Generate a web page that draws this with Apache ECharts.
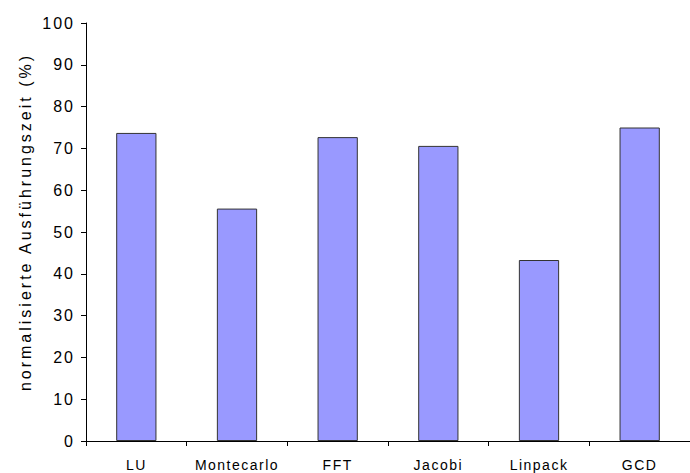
<!DOCTYPE html>
<html>
<head>
<meta charset="utf-8">
<script src="https://cdn.jsdelivr.net/npm/echarts@6/dist/echarts.min.js"></script>
<style>
  html, body { margin: 0; padding: 0; background: #fff; }
  #chart { width: 690px; height: 473px; }
</style>
</head>
<body>
<div id="chart"></div>
<script>
// benchmark names
const categories = ['LU', 'Montecarlo', 'FFT', 'Jacobi', 'Linpack', 'GCD']
// normalisierte Ausführungszeit in %
const values = [73.7, 55.6, 72.7, 70.6, 43.3, 75.0]
const yTicks = { min: 0, max: 100, interval: 10 }
const yName = 'normalisierte Ausführungszeit (%)'

const font = 'Liberation Sans, Arial, sans-serif'
const chart = echarts.init(document.getElementById('chart'), null, { renderer: 'svg' })
chart.setOption({
  animation: false,
  grid: {
    left: 86,
    right: -6,
    top: 23,
    bottom: 32
  },
  xAxis: {
    type: 'category',
    data: categories,
    axisLine: { lineStyle: { color: '#000', width: 1 } },
    axisTick: { show: true, length: 5, lineStyle: { color: '#000' } },
    axisLabel: {
      color: '#000',
      fontSize: 14,
      fontFamily: font,
      margin: 17,
      interval: 0
    }
  },
  yAxis: {
    type: 'value',
    min: yTicks.min,
    max: yTicks.max,
    interval: yTicks.interval,
    name: yName,
    nameLocation: 'middle',
    nameGap: 53,
    nameTextStyle: {
      color: '#000',
      fontSize: 16,
      fontFamily: font,
      padding: [0, 0, 0, 20]
    },
    axisLine: { show: true, lineStyle: { color: '#000', width: 1 } },
    axisTick: { show: true, length: 5, lineStyle: { color: '#000' } },
    splitLine: { show: false },
    axisLabel: {
      color: '#000',
      fontSize: 16,
      fontFamily: font,
      margin: 11
    }
  },
  series: [{
    type: 'bar',
    data: values,
    barWidth: '40%',
    itemStyle: {
      color: '#9999ff',
      borderColor: '#333',
      borderWidth: 1
    }
  }]
})

// the original export has wide letter spacing, add it to the svg texts
function spaceTexts() {
  document.querySelectorAll('#chart text').forEach(t => {
    const s = t.textContent
    if (s === yName) t.setAttribute('letter-spacing', '3px')
    else if (categories.indexOf(s) >= 0) t.setAttribute('letter-spacing', '1.5px')
    else t.setAttribute('letter-spacing', '2px')
  })
}
chart.on('finished', spaceTexts)
spaceTexts()
</script>
</body>
</html>
